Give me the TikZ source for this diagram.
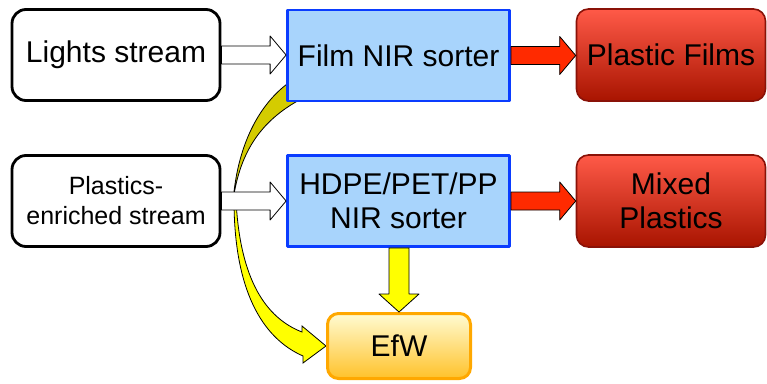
\documentclass[tikz,border=0pt]{standalone}
\usepackage{fontspec}
\setmainfont{Liberation Sans}
\usetikzlibrary{calc,backgrounds}
\definecolor{sorterfill}{HTML}{A8D4FC}
\definecolor{sorteredge}{HTML}{0A3CFF}
\definecolor{producttop}{HTML}{FF5A48}
\definecolor{productbottom}{HTML}{A81400}
\definecolor{productedge}{HTML}{8A1208}
\definecolor{arrowred}{HTML}{FF2A00}
\definecolor{efwtop}{HTML}{FFFBD2}
\definecolor{efwbottom}{HTML}{FFC22A}
\definecolor{efwedge}{HTML}{FFA800}
\definecolor{rejectfront}{HTML}{FFFF00}
\definecolor{rejectback}{HTML}{D4CC00}

\begin{document}
\begin{tikzpicture}[
  x=1pt,
  y=-1pt,
  line join=round,
  bigtext/.style={font=\fontsize{30}{34}\selectfont},
  smalltext/.style={font=\fontsize{25}{30}\selectfont},
  inputbox/.style={draw=black,line width=2.8pt,fill=white,rounded corners=14pt,
    minimum width=208pt,minimum height=91pt,inner sep=0pt,align=center},
  sorter/.style={draw=sorteredge,line width=2.8pt,fill=sorterfill,
    minimum width=222pt,minimum height=91pt,inner sep=0pt,align=center,bigtext},
  product/.style={draw=productedge,line width=1.6pt,top color=producttop,bottom color=productbottom,
    rounded corners=12pt,minimum width=189pt,minimum height=92pt,inner sep=0pt,align=center,bigtext},
  efwbox/.style={draw=efwedge,line width=3pt,top color=efwtop,bottom color=efwbottom,
    rounded corners=11pt,minimum width=143pt,minimum height=65pt,inner sep=0pt,bigtext},
  whitearrow/.style={draw=black,line width=0.8pt,fill=white},
  redarrow/.style={draw=black,line width=0.8pt,fill=arrowred},
  yellowarrow/.style={draw=black,line width=0.8pt,fill=rejectfront},
  yellowback/.style={draw=black,line width=0.8pt,fill=rejectback}
]
  \useasboundingbox (0,0) rectangle (767,383);

  % Input streams.
  \node[inputbox,bigtext] (lights) at (116,55) {Lights stream};
  \node[inputbox,smalltext] (plastics) at (116,201) {Plastics-\\enriched stream};

  % NIR sorters.
  \node[sorter] (film) at (398.5,55.5) {Film NIR sorter};
  \node[sorter] (hdpe) at (398.5,201) {HDPE/PET/PP\\NIR sorter};

  % Sorted products and residue.
  \node[product] (films) at (671,55) {Plastic Films};
  \node[product] (mixed) at (671,201) {Mixed\\Plastics};
  \node[efwbox] (efw) at (399,346) {EfW};

  % Curved reject arrow from the film sorter, twisted behind the lower input arrow.
  \begin{scope}[on background layer]
    \begin{scope}[shift={(film.south west)}]
      \filldraw[yellowback] (6,-22) .. controls (-24,-2) and (-48,38) .. (-53,98)
        .. controls (-46,48) and (-24,16) .. (20,-6) -- cycle;
    \end{scope}
    \begin{scope}[shift={(efw.west)}]
      \filldraw[yellowarrow] (-92,-146) .. controls (-92,-56) and (-64,-8) .. (-23,10)
        -- (-23,17) -- (0,0) -- (-24,-20) -- (-24,-14)
        .. controls (-60,-28) and (-86,-66) .. (-90,-146) -- cycle;
    \end{scope}
  \end{scope}

  % Straight block arrows between the boxes.
  \foreach \a/\b/\s in {lights/film/whitearrow,plastics/hdpe/whitearrow,
                        film/films/redarrow,hdpe/mixed/redarrow} {
    \filldraw[\s] let \p1=(\a.east), \p2=(\b.west) in
      (\x1,\y1+9pt) -- (\x2-16pt,\y1+9pt) -- (\x2-16pt,\y1+19pt) -- (\x2,\y1)
      -- (\x2-16pt,\y1-19pt) -- (\x2-16pt,\y1-9pt) -- (\x1,\y1-9pt) -- cycle;
  }
  \filldraw[yellowarrow] let \p1=(hdpe.south), \p2=(efw.north) in
    (\x2-10pt,\y1) -- (\x2-10pt,\y2+18pt) -- (\x2-20pt,\y2+18pt) -- (\x2,\y2)
    -- (\x2+20pt,\y2+18pt) -- (\x2+10pt,\y2+18pt) -- (\x2+10pt,\y1) -- cycle;
\end{tikzpicture}
\end{document}
